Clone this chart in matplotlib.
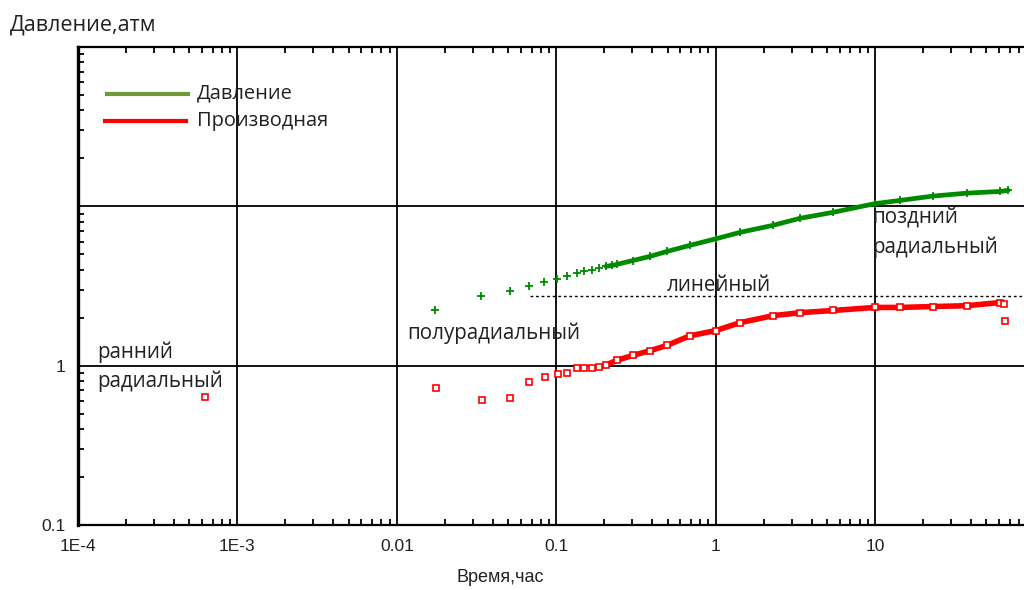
import numpy as np
import matplotlib.pyplot as plt
from matplotlib.ticker import LogLocator, NullFormatter, FixedLocator, FixedFormatter

# time, hours
green_t = [0.0174, 0.0337, 0.0513, 0.0675, 0.0838, 0.101, 0.117, 0.135, 0.149, 0.168,
           0.186, 0.205, 0.224, 0.240, 0.303, 0.387, 0.495, 0.690, 1.0, 1.42,
           2.29, 3.38, 5.45, 10.0, 14.4, 23.1, 37.8, 60.8, 68.3]
# pressure, atm
green_p = [2.25, 2.75, 2.96, 3.18, 3.33, 3.52, 3.68, 3.79, 3.90, 4.01,
           4.13, 4.20, 4.26, 4.32, 4.57, 4.85, 5.21, 5.69, 6.25, 6.86,
           7.60, 8.41, 9.17, 10.4, 10.9, 11.6, 12.1, 12.4, 12.6]

red_t = [6.27e-4, 0.0176, 0.0343, 0.0513, 0.0675, 0.0851, 0.103, 0.117, 0.135, 0.149,
         0.168, 0.186, 0.205, 0.240, 0.303, 0.387, 0.495, 0.690, 1.0, 1.42,
         2.29, 3.38, 5.45, 10.0, 14.4, 23.1, 37.8, 60.8, 64.0, 65.5]
red_d = [0.638, 0.727, 0.611, 0.629, 0.793, 0.853, 0.891, 0.904, 0.971, 0.971,
         0.971, 0.986, 1.01, 1.08, 1.16, 1.24, 1.34, 1.54, 1.66, 1.86,
         2.06, 2.15, 2.22, 2.32, 2.32, 2.35, 2.38, 2.49, 2.45, 1.90]

linear_level = 2.72   # dotted line
linear_start = 0.0686

GREEN = '#008a00'
RED = '#ff0000'
TXT = '#222222'
ANN = 'Open Sans'
TICK = 'Liberation Sans'

fig = plt.figure(figsize=(10.24, 5.9), dpi=100)
ax = fig.add_axes([78/1024, 65/590, 946/1024, 478/590])
ax.set_xscale('log')
ax.set_yscale('log')
ax.set_xlim(1e-4, 86)
ax.set_ylim(0.1, 100)

# dense part drawn as thick band + markers
gt = np.array(green_t); gp = np.array(green_p)
rt = np.array(red_t); rd = np.array(red_d)
gm = gt >= 0.2
rm = (rt >= 0.2) & (rt <= 64.0)
ax.plot(gt[gm], gp[gm], color=GREEN, lw=3.4, solid_capstyle='round', zorder=3)
ax.plot(rt[rm], rd[rm], color=RED, lw=4.0, solid_capstyle='round', zorder=3)
ax.plot(gt, gp, ls='none', marker='+', ms=5.5, mew=1.3, color=GREEN, zorder=4)
ax.plot(rt, rd, ls='none', marker='s', ms=4.2, mew=1.2, mfc='white', mec=RED, zorder=4)

ax.plot([linear_start, 86], [linear_level, linear_level], color='black',
        ls=(0, (2, 2)), lw=1.0, zorder=2)

# grid
ax.grid(True, which='major', color='black', lw=1.3)
ax.set_axisbelow(True)

ax.xaxis.set_major_locator(FixedLocator([1e-4, 1e-3, 1e-2, 1e-1, 1, 10]))
ax.xaxis.set_major_formatter(FixedFormatter(['1E-4', '1E-3', '0.01', '0.1', '1', '10']))
ax.xaxis.set_minor_locator(LogLocator(base=10, subs=np.arange(2, 10), numticks=20))
ax.xaxis.set_minor_formatter(NullFormatter())
ax.yaxis.set_major_locator(FixedLocator([0.1, 1, 10, 100]))
ax.yaxis.set_major_formatter(FixedFormatter(['0.1', '1', '', '']))
ax.yaxis.set_minor_locator(LogLocator(base=10, subs=np.arange(2, 10), numticks=20))
ax.yaxis.set_minor_formatter(NullFormatter())

ax.tick_params(which='major', length=0, labelsize=12.5, colors=TXT)
ax.tick_params(axis='x', which='major', pad=10)
ax.tick_params(axis='y', which='major', pad=9)
ax.tick_params(which='minor', direction='in', length=4, width=1.3, color='black',
               top=True, right=False)
for lab in ax.get_xticklabels() + ax.get_yticklabels():
    lab.set_family(TICK)

ax.spines['right'].set_visible(False)
ax.spines['left'].set_linewidth(2.4)
ax.spines['bottom'].set_linewidth(1.6)
ax.spines['top'].set_linewidth(1.6)

# legend drawn by hand
ax.plot([0.031, 0.116], [0.902, 0.902], transform=ax.transAxes, color='#6f9a3a', lw=3)
ax.plot([0.029, 0.114], [0.845, 0.845], transform=ax.transAxes, color=RED, lw=3)
ax.text(0.126, 0.902, 'Давление', transform=ax.transAxes, va='center',
        fontsize=14.4, family=ANN, color=TXT)
ax.text(0.126, 0.845, 'Производная', transform=ax.transAxes, va='center',
        fontsize=14.4, family=ANN, color=TXT)

# regime annotations
ann = dict(fontsize=14.8, family=ANN, color=TXT, va='center', ha='left')
ax.text(1.33e-4, 1.21, 'ранний', **ann)
ax.text(1.33e-4, 0.793, 'радиальный', **ann)
ax.text(0.0116, 1.59, 'полурадиальный', **ann)
ax.text(0.495, 3.18, 'линейный', **ann)
ax.text(9.6, 8.41, 'поздний', **ann)
ax.text(9.6, 5.53, 'радиальный', **ann)

fig.text(10/1024, 1 - 25/590, 'Давление,атм', fontsize=15.5, family=ANN,
         color=TXT, va='center', ha='left')
fig.text(500/1024, 1 - 578/590, 'Время,час', fontsize=13, family=TICK,
         color=TXT, va='center', ha='center')

fig.savefig('out.png', dpi=100)
